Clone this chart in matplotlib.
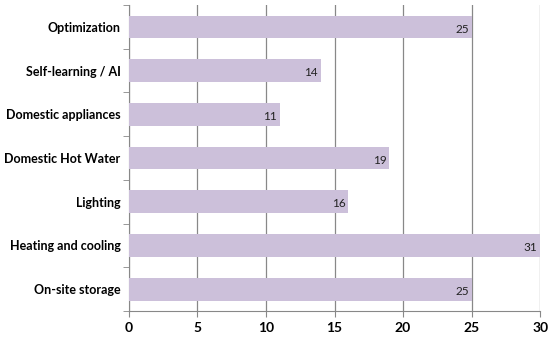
import matplotlib
matplotlib.use("Agg")
import matplotlib.pyplot as plt

categories = ["Optimization", "Self-learning / AI", "Domestic appliances",
              "Domestic Hot Water", "Lighting", "Heating and cooling", "On-site storage"]
values = [25, 14, 11, 19, 16, 31, 25]
xticks = [0, 5, 10, 15, 20, 25, 30]

plt.rcParams['font.family'] = ['Lato', 'DejaVu Sans']

fig = plt.figure(figsize=(5.5, 3.37), dpi=100)
ax = fig.add_axes([0.2345, 0.077, 0.7475, 0.908])

n = len(categories)
ypos = list(range(n))[::-1]
ax.barh(ypos, [min(v, 30) for v in values], height=0.52, color="#CCC0DA", zorder=3)
for y, v in zip(ypos, values):
    ax.text(min(v, 30) - 0.2, y - 0.05, str(v), ha="right", va="center", fontsize=8.5,
            color="#222222", zorder=4)

ax.set_xlim(0, 30)
ax.set_ylim(-0.5, n - 0.5)
ax.set_xticks(xticks)
ax.set_xticklabels([str(t) for t in xticks], fontsize=10, fontweight="bold")
ax.set_yticks(ypos)
ax.set_yticklabels(categories, fontsize=9, fontweight="bold")
ax.set_yticks([i + 0.5 for i in range(-1, n)], minor=True)
ax.tick_params(axis="y", which="major", length=0, pad=6)
ax.tick_params(axis="y", which="minor", length=4, color="#888888")
ax.tick_params(axis="x", length=4, color="#888888", pad=4)
ax.xaxis.grid(True, color="#888888", linewidth=0.9, zorder=0)
for s in ["top", "right"]:
    ax.spines[s].set_visible(False)
for s in ["left", "bottom"]:
    ax.spines[s].set_color("#888888")

fig.savefig("out.png", dpi=100)
